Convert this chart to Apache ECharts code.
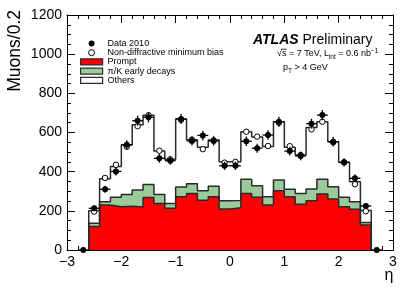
<!DOCTYPE html>
<html><head><meta charset="utf-8">
<script src="https://cdn.jsdelivr.net/npm/echarts@6/dist/echarts.min.js"></script>
<style>html,body{margin:0;padding:0;background:#fff}#c{width:415px;height:298px}</style>
</head><body><div id="c"></div>
<script>
// ---------- data ----------
const binWidth = 0.2;
const etaBins = [-2.5,-2.3,-2.1,-1.9,-1.7,-1.5,-1.3,-1.1,-0.9,-0.7,-0.5,-0.3,-0.1,0.1,0.3,0.5,0.7,0.9,1.1,1.3,1.5,1.7,1.9,2.1,2.3,2.5];
const prompt   = [120,230,221,224,219,268,238,213,272,289,254,272,209,216,289,269,230,303,272,233,252,286,260,221,208,128];
const piKDecays= [16,17,48,60,87,66,46,25,50,49,48,53,43,37,72,59,42,54,38,56,59,75,63,48,39,13];
const others   = [64,117,158,252,334,354,221,225,347,225,223,237,199,198,243,249,257,298,215,196,314,294,230,179,102,61];
const mcNonDiff= [196,368,435,527,632,688,507,463,665,563,515,560,446,450,604,579,531,650,530,485,616,655,550,448,336,198];
const dataEta  = [-2.7,-2.5,-2.3,-2.1,-1.9,-1.7,-1.5,-1.3,-1.1,-0.9,-0.7,-0.5,-0.3,-0.1,0.1,0.3,0.5,0.7,0.9,1.1,1.3,1.5,1.7,1.9,2.1,2.3,2.5,2.7];
const data2010 = [0,213,310,401,538,660,678,468,456,669,557,585,557,430,430,555,520,587,655,505,480,645,689,553,447,366,225,0];
const dataErr  = [0,14,18,20,23,26,26,22,21,26,24,24,24,21,21,24,23,24,26,22,22,25,26,24,21,19,15,0];
const xTicks = {min:-3, max:3, interval:1};
const yTicks = {min:0, max:1200, interval:200};

const FONT = '"Liberation Sans", Arial, Helvetica, sans-serif';
const EDGE = '#2a2a2a';

// cumulative stacks
const cumPrompt = prompt.slice();
const cumPiK = prompt.map((v,i)=>v+piKDecays[i]);
const cumAll = cumPiK.map((v,i)=>v+others[i]);
const edges = etaBins.map(c => +(c - binWidth/2).toFixed(3));
function stepLine(vals){
  const pts = [[edges[0],0]];
  vals.forEach((v,i)=>pts.push([edges[i],v]));
  pts.push([+(edges[edges.length-1]+binWidth).toFixed(3),0]);
  return pts;
}
function histSeries(name, vals, fill){
  return {name, type:'line', step:'end', data:stepLine(vals), symbol:'none', showSymbol:false,
    itemStyle:{color:fill}, lineStyle:{color:EDGE, width:1.5},
    areaStyle:{color:fill, opacity:1}, silent:true, z:2};
}

// ---------- chart ----------
const chart = echarts.init(document.getElementById('c'), null, {renderer:'canvas'});
const tickStyle = {color:'#000', width:1};
function xAxis(pos, labels){
  return {type:'value', position:pos, min:xTicks.min, max:xTicks.max, interval:xTicks.interval,
    axisLine:{show:true, onZero:false, lineStyle:tickStyle},
    axisTick:{show:true, inside:true, length:8, lineStyle:tickStyle},
    minorTick:{show:true, splitNumber:5, length:4, lineStyle:tickStyle},
    splitLine:{show:false}, minorSplitLine:{show:false},
    axisLabel:{show:labels, margin:5, color:'#000', fontSize:14, fontFamily:FONT,
      formatter:v=> v<0 ? '\u2212'+(-v) : String(v)}};
}
function yAxis(pos, labels){
  return {type:'value', position:pos, min:yTicks.min, max:yTicks.max, interval:yTicks.interval,
    axisLine:{show:true, onZero:false, lineStyle:tickStyle},
    axisTick:{show:true, inside:true, length:8, lineStyle:tickStyle},
    minorTick:{show:true, splitNumber:4, length:4, lineStyle:tickStyle},
    splitLine:{show:false}, minorSplitLine:{show:false},
    axisLabel:{show:labels, margin:5, color:'#000', fontSize:14, fontFamily:FONT,
      formatter:v=>String(v)}};
}

// text pieces with sub/superscripts
const ctx = document.createElement('canvas').getContext('2d');
function tw(t, size){ ctx.font = size+'px '+FONT; return ctx.measureText(t).width; }
function latex(pieces, x0, yMid){
  const els = []; let x = x0;
  pieces.forEach(p=>{
    els.push({type:'text', x:x, y:yMid+(p.dy||0), silent:true,
      style:{text:p.t, fontSize:p.s, fontFamily:FONT, fill:'#000', align:'left', verticalAlign:'middle'}});
    x += tw(p.t, p.s);
  });
  return els;
}
const line2 = [{t:'\u221As = 7 TeV, L', s:9},{t:'int', s:6.5, dy:2.8},{t:' = 0.6 nb', s:9},{t:'\u22121', s:6.5, dy:-3.2}];
const line3 = [{t:'p', s:9},{t:'T', s:6.5, dy:2.8},{t:' > 4 GeV', s:9}];
const l2x = 277, l2y = 54;
const sqrtW = tw('\u221A', 9), sW = tw('\u221As', 9);

const graphics = [
  {type:'text', x:15.5, y:10, rotation:Math.PI/2, silent:true,
   style:{text:'Muons/0.2', fontSize:17.5, fontFamily:FONT, fill:'#000', align:'right', verticalAlign:'middle'}},
  {type:'text', x:389, y:276, silent:true,
   style:{text:'\u03B7', fontSize:16, fontFamily:FONT, fill:'#000', align:'center', verticalAlign:'middle'}},
  {type:'text', x:253, y:40, silent:true,
   style:{text:'{a|ATLAS} {b|Preliminary}', fontSize:14, fontFamily:FONT, fill:'#000', align:'left', verticalAlign:'middle',
     rich:{a:{fontSize:14, fontWeight:'bold', fontStyle:'italic', fontFamily:FONT, fill:'#000'}, b:{fontSize:14, fontFamily:FONT, fill:'#000'}}}},
  {type:'line', silent:true, shape:{x1:l2x+sqrtW-0.6, y1:l2y-4.8, x2:l2x+sW+0.3, y2:l2y-4.8}, style:{stroke:'#000', lineWidth:0.8}},
  ...latex(line2, l2x, l2y),
  ...latex(line3, 283, 68)
];

chart.setOption({
  animation:false,
  backgroundColor:'#fff',
  grid:{left:67, right:22, top:15, bottom:48, containLabel:false, outerBoundsMode:'none'},
  xAxis:[xAxis('bottom', true), xAxis('top', false)],
  yAxis:[yAxis('left', true), yAxis('right', false)],
  legend:{orient:'vertical', left:80, top:39, padding:0, itemGap:0.2, itemWidth:22, itemHeight:6,
    selectedMode:false, textStyle:{fontSize:9, lineHeight:9, fontFamily:FONT, color:'#000'},
    data:[
      {name:'Data 2010', icon:'circle', itemStyle:{color:'#000', borderWidth:0}},
      {name:'Non-diffractive minimum bias', icon:'circle', itemStyle:{color:'#fff', borderColor:'#000', borderWidth:1}},
      {name:'Prompt', icon:'rect', itemStyle:{color:'#ff0000', borderColor:EDGE, borderWidth:1.2}},
      {name:'\u03C0/K early decays', icon:'rect', itemStyle:{color:'#99cc99', borderColor:EDGE, borderWidth:1.2}},
      {name:'Others', icon:'rect', itemStyle:{color:'#ffffff', borderColor:EDGE, borderWidth:1.2}}
    ]},
  graphic:graphics,
  series:[
    histSeries('Others', cumAll, '#ffffff'),
    histSeries('\u03C0/K early decays', cumPiK, '#99cc99'),
    histSeries('Prompt', cumPrompt, '#ff0000'),
    {name:'Non-diffractive minimum bias', type:'scatter', symbol:'circle', symbolSize:5.5,
     data:etaBins.map((x,i)=>[x, mcNonDiff[i]]),
     itemStyle:{color:'#fff', borderColor:'#000', borderWidth:1, opacity:1}, z:3, silent:true},
    {name:'Data 2010 errors', type:'custom', z:4, silent:true,
     data:dataEta.map((x,i)=>[x, data2010[i], dataErr[i]]),
     renderItem:(params, api)=>{
       const x = api.value(0), y = api.value(1), e = api.value(2);
       const lo = api.coord([x, y-e]), hi = api.coord([x, y+e]);
       const l = api.coord([x-binWidth/2, y]), r = api.coord([x+binWidth/2, y]);
       return {type:'group', children:[
         {type:'line', shape:{x1:lo[0], y1:lo[1], x2:hi[0], y2:hi[1]}, style:{stroke:'#000', lineWidth:1.3}},
         {type:'line', shape:{x1:l[0], y1:l[1], x2:r[0], y2:r[1]}, style:{stroke:'#000', lineWidth:1.3}}
       ]};
     }},
    {name:'Data 2010', type:'scatter', symbol:'circle', symbolSize:6,
     data:dataEta.map((x,i)=>[x, data2010[i]]),
     itemStyle:{color:'#000', opacity:1}, z:5, silent:true}
  ]
});
</script></body></html>
